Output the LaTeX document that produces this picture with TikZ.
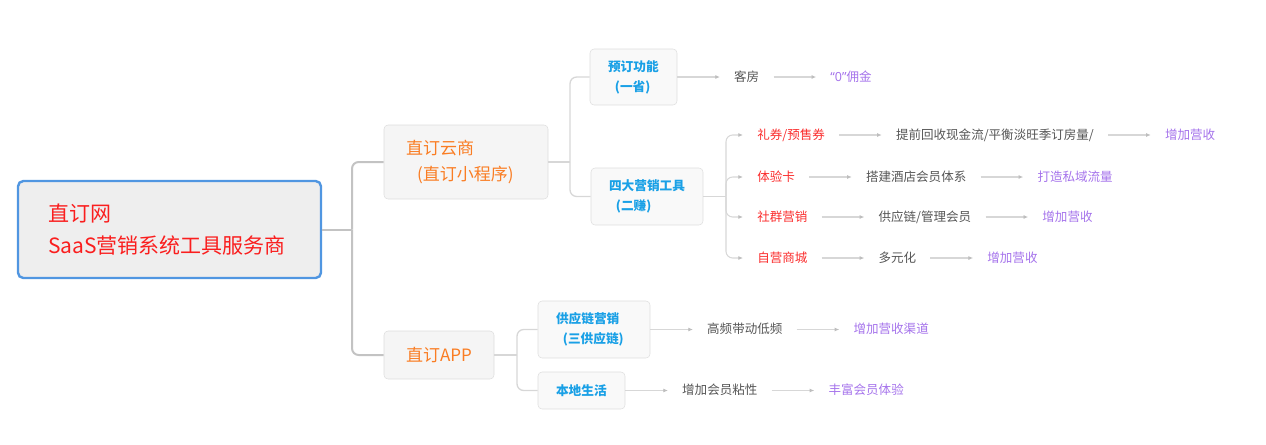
\documentclass[tikz,border=0pt]{standalone}
\usepackage{fontspec}
\setmainfont{Noto Sans CJK SC}
\newfontfamily\quotefont{Noto Sans}
\usepackage{xcolor}
\usepackage{tikz}
\definecolor{rootRed}{RGB}{250, 30, 30}
\definecolor{rootBlue}{RGB}{80, 150, 225}
\definecolor{rootFill}{RGB}{238, 238, 238}
\definecolor{cloudOrange}{RGB}{250, 125, 35}
\definecolor{toolBlue}{RGB}{25, 160, 230}
\definecolor{itemRed}{RGB}{250, 45, 45}
\definecolor{gainPurple}{RGB}{165, 115, 235}
\definecolor{leafGray}{RGB}{85, 85, 85}
\definecolor{boxLine}{RGB}{222, 222, 222}
\definecolor{boxFill}{RGB}{245, 245, 245}
\definecolor{trunkGray}{RGB}{195, 195, 195}
\definecolor{branchGray}{RGB}{215, 215, 215}
\definecolor{tipGray}{RGB}{190, 190, 190}
\usetikzlibrary{arrows.meta, positioning}

\begin{document}
\begin{tikzpicture}[
    x=0.75pt, y=-0.75pt,
    node distance=32pt,
    rootbox/.style={rectangle, rounded corners=4pt, draw=rootBlue, line width=1.8pt, fill=rootFill,
        align=left, text width=182.25pt, inner xsep=22.5pt, minimum height=72.75pt,
        text=rootRed, font=\fontsize{15.75}{24}\selectfont},
    cloudbox/.style={rectangle, rounded corners=3pt, draw=boxLine, fill=boxFill,
        align=left, inner xsep=16.5pt, text=cloudOrange, font=\fontsize{12.75}{19.5}\selectfont},
    toolbox/.style={rectangle, rounded corners=3pt, draw=boxLine, fill=boxFill!60,
        align=left, inner xsep=13.5pt, text=toolBlue, font=\fontsize{9.5}{15}\selectfont\bfseries},
    item/.style={inner xsep=10.5pt, inner ysep=2pt, text height=7.5pt, text depth=1.5pt,
        text=itemRed, font=\fontsize{9.4}{11}\selectfont},
    leaf/.style={item, text=leafGray},
    gain/.style={item, text=gainPurple},
    trunk/.style={draw=trunkGray, line width=1.5pt, rounded corners=5pt},
    branch/.style={draw=branchGray, line width=1pt, rounded corners=5pt},
    flow/.style={draw=branchGray, line width=0.8pt, -{Latex[length=3.5pt, width=3pt, color=tipGray]}}
]
    \useasboundingbox (0,0) rectangle (1266,444);

    \node[rootbox] (root) at (169.5,229.5) {直订网\\SaaS营销系统工具服务商};

    \node[cloudbox, text width=90pt, minimum height=55.5pt] (yun) at (466,162) {直订云商\\\hspace*{0.65em}(直订小程序)};
    \node[cloudbox, text width=49.5pt, minimum height=36pt] (app) at (439,355) {直订APP};

    \node[toolbox, text width=38.25pt, minimum height=42pt] (yuding) at (633.5,77) {预订功能\\\hspace*{0.55em}(一省)};
    \node[toolbox, text width=57pt, minimum height=42.75pt] (sida) at (647,196.5) {四大营销工具\\\hspace*{0.55em}(二赚)};
    \node[toolbox, text width=57pt, minimum height=42.75pt] (gongying) at (594,329.5) {供应链营销\\\hspace*{0.55em}(三供应链)};
    \node[toolbox, text width=38.25pt, minimum height=27.75pt] (bendi) at (581.5,390.5) {本地生活};

    \node[item, anchor=west] (liquan) at (743,135) {礼券/预售券};
    \node[item, anchor=west] (tiyan) at (743,177) {体验卡};
    \node[item, anchor=west] (shequn) at (743,217) {社群营销};
    \node[item, anchor=west] (ziying) at (743,258) {自营商城};

    \node[leaf, right=of yuding] (kefang) {客房};
    \node[gain, right=of kefang] (yongjin) {{\quotefont“0”}佣金};
    \node[leaf, right=of liquan] (huishou) {提前回收现金流/平衡淡旺季订房量/};
    \node[gain, right=of huishou] (yingshouA) {增加营收};
    \node[leaf, right=of tiyan] (huiyuan) {搭建酒店会员体系};
    \node[gain, right=of huiyuan] (siyu) {打造私域流量};
    \node[leaf, right=of shequn] (guanli) {供应链/管理会员};
    \node[gain, right=of guanli] (yingshouB) {增加营收};
    \node[leaf, right=of ziying] (duoyuan) {多元化};
    \node[gain, right=of duoyuan] (yingshouC) {增加营收};
    \node[leaf, right=of gongying] (gaopin) {高频带动低频};
    \node[gain, right=of gaopin] (qudao) {增加营收渠道};
    \node[leaf, right=of bendi] (nianxing) {增加会员粘性};
    \node[gain, right=of nianxing] (fengfu) {丰富会员体验};

    \coordinate (jroot) at (352,229.5);
    \coordinate (jyun) at (570,162);
    \coordinate (jsida) at (726,196.5);
    \coordinate (japp) at (517,355);

    \draw[trunk] (root.east) -- (jroot);
    \draw[trunk] (jroot) |- (yun.west);
    \draw[trunk] (jroot) |- (app.west);

    \draw[branch] (yun.east) -- (jyun);
    \draw[branch] (jyun) |- (yuding.west);
    \draw[branch] (jyun) |- (sida.west);

    \draw[branch] (app.east) -- (japp);
    \draw[branch] (japp) |- (gongying.west);
    \draw[branch] (japp) |- (bendi.west);

    \draw[branch] (sida.east) -- (jsida);
    \draw[branch, flow] (jsida) |- (liquan.west);
    \draw[branch, flow] (jsida) |- (tiyan.west);
    \draw[branch, flow] (jsida) |- (shequn.west);
    \draw[branch, flow] (jsida) |- (ziying.west);

    \draw[flow] (yuding.east) -- (kefang.west);
    \draw[flow] (kefang.east) -- (yongjin.west);
    \draw[flow] (liquan.east) -- (huishou.west);
    \draw[flow] (huishou.east) -- (yingshouA.west);
    \draw[flow] (tiyan.east) -- (huiyuan.west);
    \draw[flow] (huiyuan.east) -- (siyu.west);
    \draw[flow] (shequn.east) -- (guanli.west);
    \draw[flow] (guanli.east) -- (yingshouB.west);
    \draw[flow] (ziying.east) -- (duoyuan.west);
    \draw[flow] (duoyuan.east) -- (yingshouC.west);
    \draw[flow] (gongying.east) -- (gaopin.west);
    \draw[flow] (gaopin.east) -- (qudao.west);
    \draw[flow] (bendi.east) -- (nianxing.west);
    \draw[flow] (nianxing.east) -- (fengfu.west);
\end{tikzpicture}
\end{document}
